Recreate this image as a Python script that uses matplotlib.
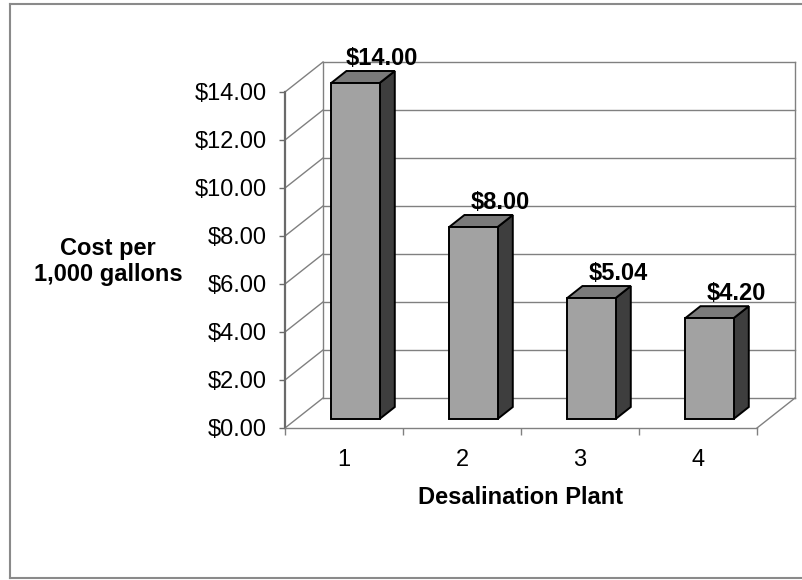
import numpy as np
import matplotlib.pyplot as plt
from matplotlib.patches import Polygon
from matplotlib.lines import Line2D
from matplotlib.ticker import FuncFormatter

plt.rcParams["font.family"] = ["Liberation Sans", "DejaVu Sans"]

plantas = ["1", "2", "3", "4"]
custo = [14.00, 8.00, 5.04, 4.20]
y_ticks = [0, 2, 4, 6, 8, 10, 12, 14]

COR_FRENTE = "#a2a2a2"
COR_LADO = "#3e3e3e"
COR_TOPO = "#7a7a7a"
COR_GRADE = "#808080"

# profundidade da "caixa" 3D em pixels de tela (x, y)
PROF_PX = (38, 30)
BARRA_Z = (0.3, 0.7)   # frente/fundo da barra como fração da profundidade
LARG = 0.41

fig = plt.figure(figsize=(8.03, 5.80), dpi=100)
W, H = 803, 580
ax = fig.add_axes([285 / W, (H - 428) / H, 472 / W, 336 / H])
ax.set_xlim(0, len(plantas))
ax.set_ylim(0, 14)

pos = ax.get_position()
sx = (ax.get_xlim()[1] - ax.get_xlim()[0]) / (pos.width * W)
sy = (ax.get_ylim()[1] - ax.get_ylim()[0]) / (pos.height * H)


def prof(f):
    return np.array([f * PROF_PX[0] * sx, f * PROF_PX[1] * sy])


def linha(p0, p1, **kw):
    ax.add_line(Line2D([p0[0], p1[0]], [p0[1], p1[1]], clip_on=False, **kw))


n = len(plantas)
fundo = prof(1.0)
kw_grade = dict(color=COR_GRADE, lw=1.0, zorder=1)

# parede do fundo + grade
for v in y_ticks:
    a = np.array([0, v]) + fundo
    b = np.array([n, v]) + fundo
    linha(a, b, **kw_grade)
    # parede lateral esquerda
    linha((0, v), a, **kw_grade)
linha(np.array([0, 0]) + fundo, np.array([0, 14]) + fundo, **kw_grade)
linha(np.array([n, 0]) + fundo, np.array([n, 14]) + fundo, **kw_grade)
# piso
linha((n, 0), np.array([n, 0]) + fundo, **kw_grade)

# barras
d0, d1 = prof(BARRA_Z[0]), prof(BARRA_Z[1])
for i, v in enumerate(custo):
    xl, xr = i + 0.5 - LARG / 2, i + 0.5 + LARG / 2
    frente = np.array([(xl, 0), (xr, 0), (xr, v), (xl, v)]) + d0
    lado = np.array([(xr, 0) + d0, (xr, 0) + d1, (xr, v) + d1, (xr, v) + d0])
    topo = np.array([(xl, v) + d0, (xr, v) + d0, (xr, v) + d1, (xl, v) + d1])
    for pts, cor in ((lado, COR_LADO), (topo, COR_TOPO), (frente, COR_FRENTE)):
        ax.add_patch(Polygon(pts, closed=True, facecolor=cor, edgecolor="black",
                             lw=1.4, joinstyle="miter", clip_on=False, zorder=3))
    lx, ly = np.array([i + 0.5, v]) + fundo
    ax.text(lx, ly - 3 * sy, f"${v:.2f}", ha="center", va="baseline",
            fontsize=17, fontweight="bold", zorder=5)

# eixos
for s in ("top", "right"):
    ax.spines[s].set_visible(False)
ax.spines["left"].set_color("#6a6a6a")
ax.spines["left"].set_linewidth(1.6)
ax.spines["bottom"].set_color(COR_GRADE)
ax.spines["bottom"].set_linewidth(1.0)
ax.patch.set_visible(False)

ax.set_yticks(y_ticks)
ax.yaxis.set_major_formatter(FuncFormatter(lambda v, _: f"${v:.2f}"))
ax.tick_params(axis="y", direction="out", length=4, width=1, color="#6a6a6a",
               pad=9, labelsize=17)

ax.set_xticks(np.arange(n) + 0.5)
ax.set_xticklabels(plantas)
ax.set_xticks(np.arange(n + 1), minor=True)
ax.tick_params(axis="x", which="major", length=0, pad=15, labelsize=17)
ax.tick_params(axis="x", which="minor", direction="out", length=5, width=1,
               color=COR_GRADE)

ax.set_xlabel("Desalination Plant", fontsize=17, fontweight="bold", labelpad=11)
ax.set_ylabel("Cost per\n1,000 gallons", fontsize=17, fontweight="bold",
              rotation=0, ha="center", va="center")
ax.yaxis.set_label_coords(-0.375, 0.495)

# moldura da área do gráfico
kw_mold = dict(color="#8a8a8a", lw=1.5, transform=fig.transFigure)
fig.add_artist(Line2D([10 / W, 10 / W], [2 / H, 1 - 4 / H], **kw_mold))
fig.add_artist(Line2D([10 / W, 1.0], [1 - 4 / H, 1 - 4 / H], **kw_mold))
fig.add_artist(Line2D([10 / W, 1.0], [2 / H, 2 / H], **kw_mold))

fig.savefig("out.png", dpi=100, facecolor="white")
